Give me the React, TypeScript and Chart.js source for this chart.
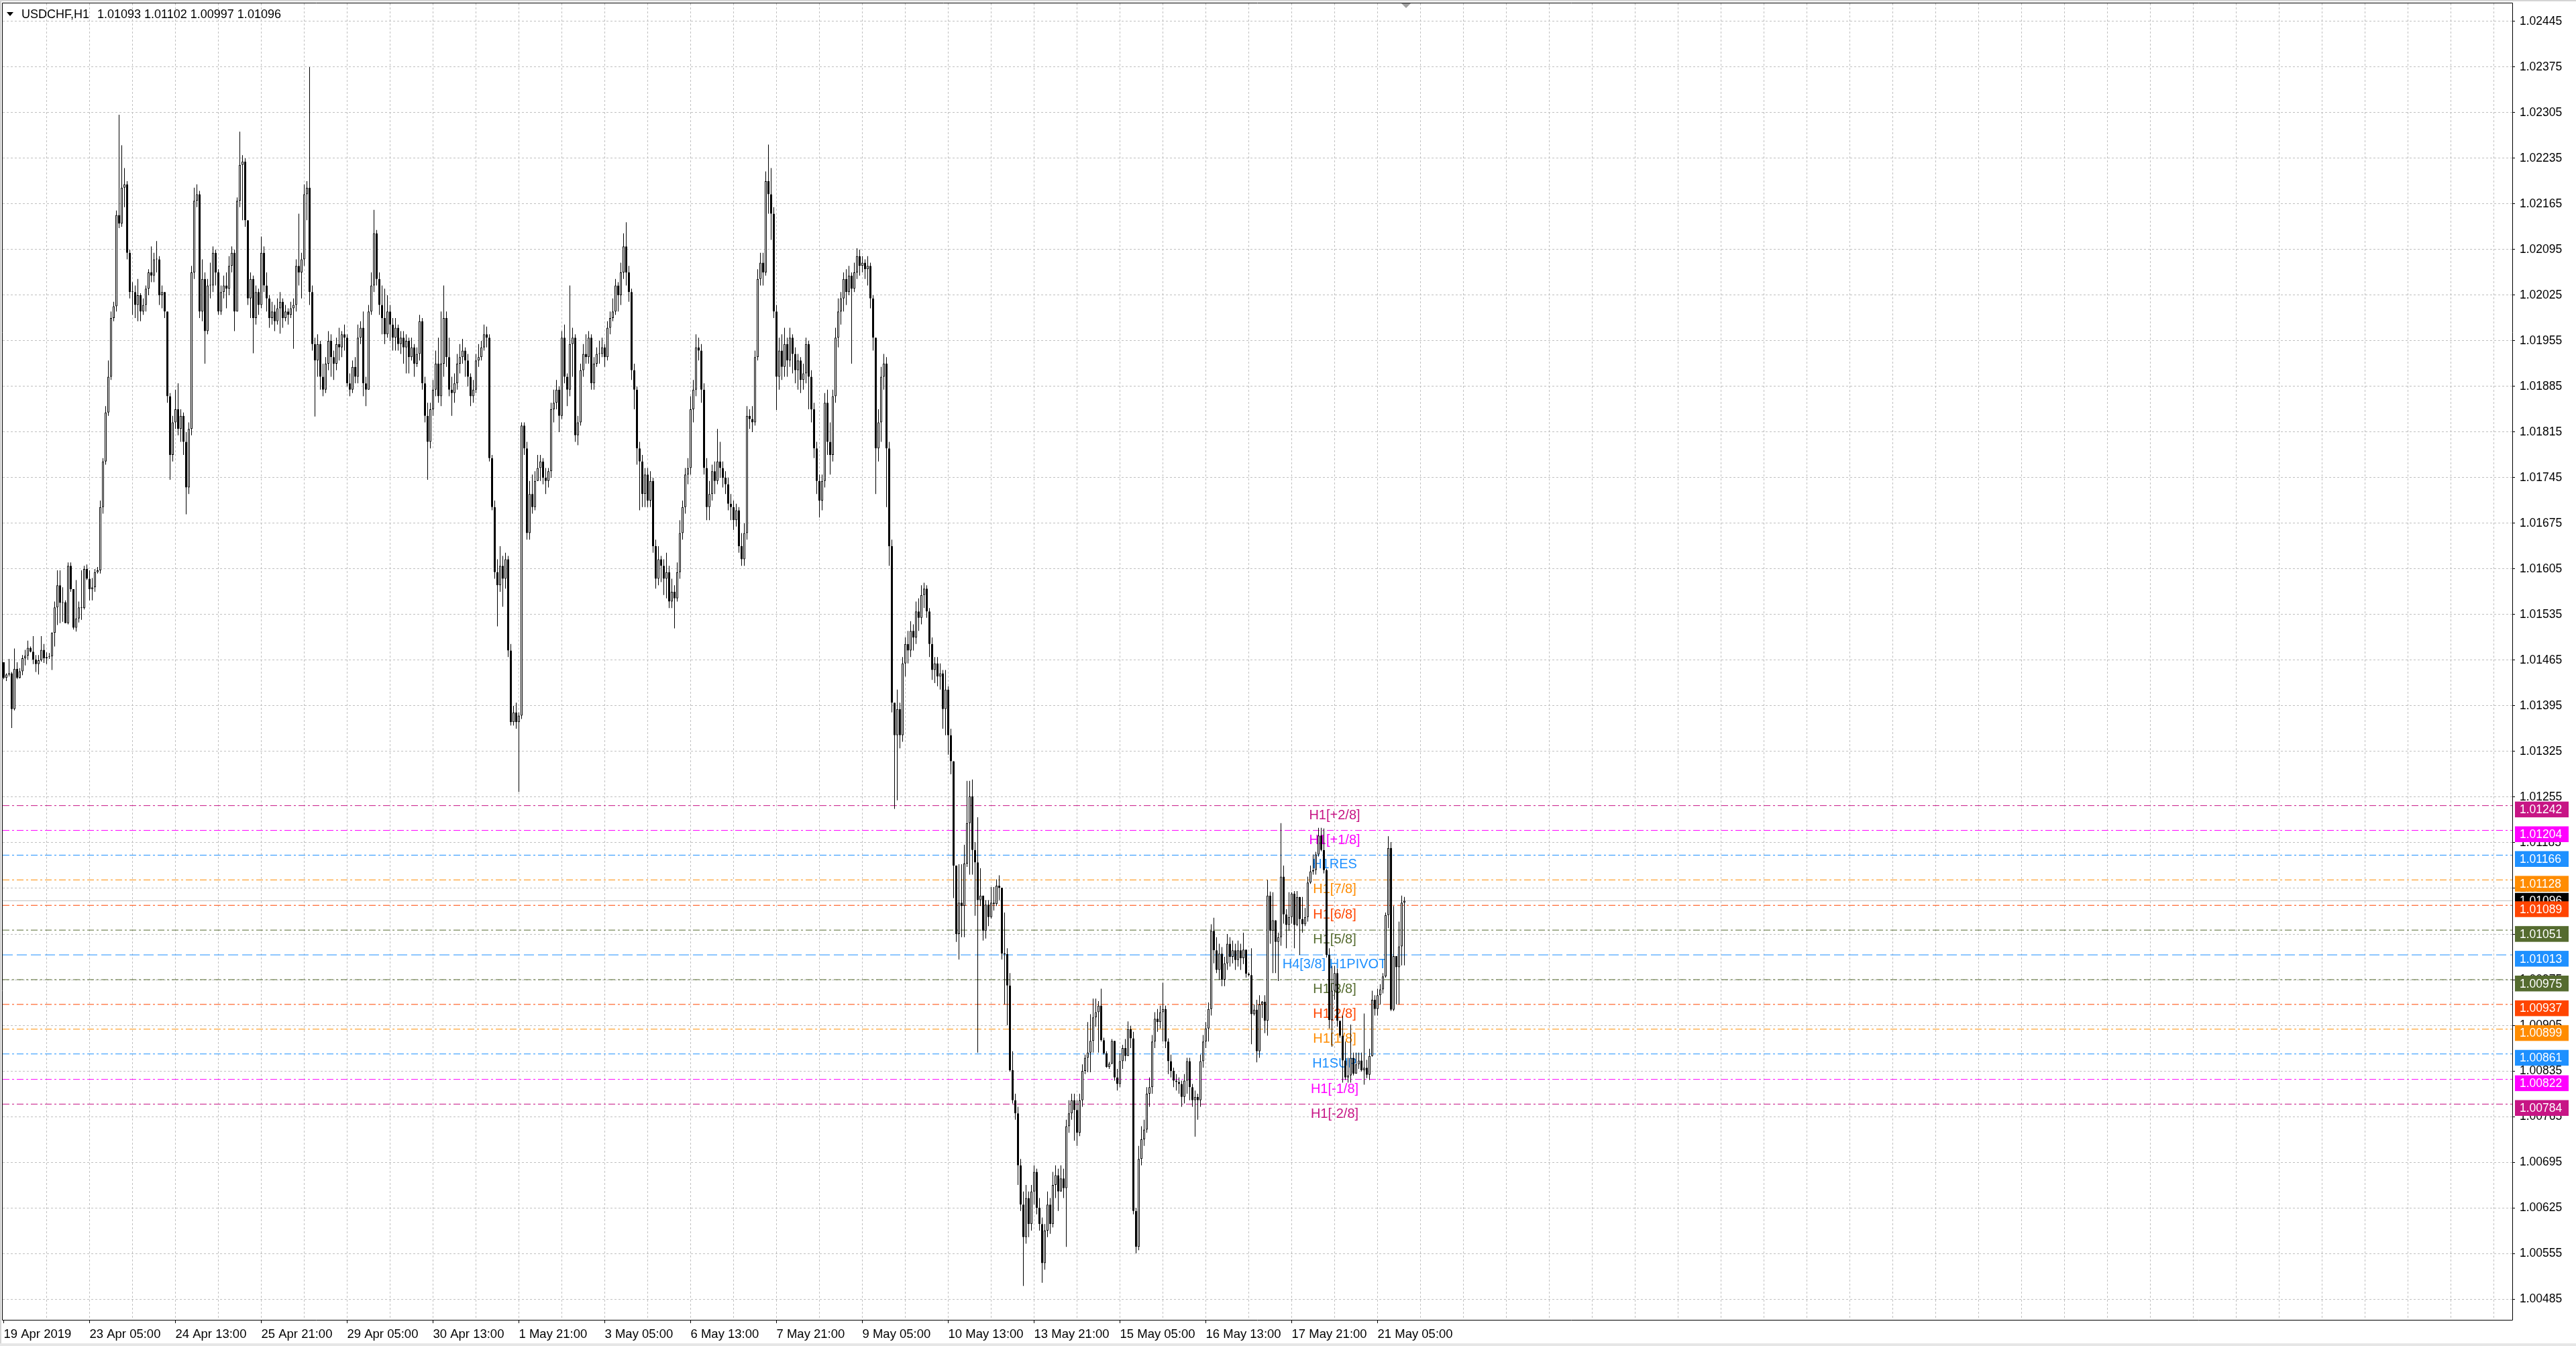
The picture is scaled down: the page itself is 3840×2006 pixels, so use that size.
import React, { useEffect, useRef } from "react";
import { Chart, registerables } from "chart.js";

Chart.register(...registerables);

// Prices are stored as points above 1.00000 (e.g. 1438 = 1.01438)
const FIRST_OPEN = 1462;

const closes = [
  1438,1443,1445,1390,1452,1438,1448,1468,1472,1484,
  1478,1466,1459,1465,1481,1468,1470,1471,1507,1546,
  1580,1553,1554,1522,1610,1574,1515,1529,1546,1545,
  1605,1590,1574,1577,1600,1603,1700,1770,1845,1900,
  1990,2008,2148,2135,2190,2195,2090,2030,2030,2010,
  2025,2000,2010,2035,2060,2055,2080,2080,2025,2030,
  2000,1870,1780,1830,1850,1820,1840,1800,1730,1820,
  2060,2170,2180,2000,2050,1970,2040,2040,2090,2060,
  2000,2030,2040,2035,2070,2090,2000,2170,2225,2230,
  2140,2020,2050,1990,2030,2010,2090,2040,2020,1990,
  2000,1985,2005,2015,1990,2000,1995,2005,2010,2070,
  2060,2080,2180,2190,2030,1950,1925,1950,1900,1880,
  1920,1955,1930,1920,1950,1945,1965,1960,1890,1880,
  1915,1900,1960,1975,1890,1880,2000,2040,2120,2050,
  2010,1990,1965,2000,1980,1960,1975,1950,1960,1945,
  1955,1930,1945,1920,1935,1985,1890,1840,1800,1850,
  1880,1920,1870,1920,1990,1930,1880,1875,1890,1920,
  1930,1940,1925,1900,1870,1880,1925,1930,1945,1965,
  1960,1775,1700,1600,1580,1610,1590,1620,1480,1370,
  1385,1370,1380,1825,1790,1660,1720,1700,1740,1760,
  1770,1745,1740,1755,1850,1860,1880,1840,1960,1900,
  1880,1950,1960,1810,1830,1910,1935,1930,1960,1890,
  1920,1935,1935,1945,1930,1975,1990,2000,2040,2025,
  2060,2100,2060,2030,1910,1880,1790,1770,1720,1750,
  1710,1740,1640,1590,1620,1610,1590,1600,1555,1570,
  1560,1600,1660,1700,1750,1760,1850,1880,1945,1940,
  1880,1760,1700,1720,1755,1740,1770,1760,1745,1735,
  1705,1700,1680,1695,1640,1620,1660,1840,1835,1830,
  1930,2050,2075,2060,2200,2180,2150,2000,1900,1940,
  1915,1950,1925,1960,1935,1910,1925,1895,1905,1950,
  1900,1850,1790,1740,1710,1740,1860,1800,1780,1870,
  1960,2000,2020,2050,2030,2055,2035,2060,2085,2070,
  2075,2065,2070,2020,1960,1790,1830,1900,1920,1790,
  1640,1400,1350,1390,1350,1460,1490,1480,1510,1500,
  1540,1530,1565,1575,1540,1490,1450,1460,1440,1445,
  1390,1420,1350,1310,1150,1045,1093,1088,1153,1215,
  1256,1174,1155,1097,1104,1050,1090,1071,1093,1091,
  1119,1116,1015,1014,966,836,790,770,690,630,
  580,640,600,650,680,625,600,540,590,630,
  600,660,675,650,670,655,750,770,790,775,
  740,790,835,855,863,881,917,925,935,882,
  862,841,846,881,825,815,850,870,858,899,
  885,620,565,700,730,745,800,810,880,915,
  910,925,930,880,850,835,820,818,815,795,
  820,850,810,790,795,790,850,880,900,930,
  1050,1020,990,1015,975,1000,1030,1010,1020,1005,
  1020,1008,1021,984,982,922,929,865,937,941,
  912,1104,1050,1066,1033,1040,1133,1075,1059,1071,
  1107,1059,1102,1068,1060,1071,1124,1141,1143,1167,
  1196,1174,1143,1013,913,958,985,912,889,851,
  825,828,855,831,845,851,836,840,829,858,
  944,930,951,960,980,1074,1177,929,1011,994,
  1026,1093,1096,
];

const highs = [
  1462,1445,1467,1447,1483,1462,1453,1473,1481,1495,
  1486,1502,1473,1473,1502,1490,1477,1476,1508,1555,
  1603,1603,1577,1557,1615,1615,1574,1588,1555,1603,
  1610,1612,1603,1591,1605,1608,1710,1775,1855,1925,
  2000,2015,2155,2302,2255,2220,2200,2095,2045,2040,
  2050,2028,2020,2040,2065,2100,2090,2108,2085,2040,
  2030,2000,1875,1840,1880,1890,1850,1845,1815,1830,
  2070,2190,2195,2185,2080,2060,2050,2075,2100,2095,
  2065,2040,2055,2060,2085,2100,2095,2175,2276,2240,
  2235,2140,2060,2055,2040,2035,2115,2100,2060,2025,
  2015,2010,2020,2030,2020,2010,2005,2015,2020,2080,
  2150,2090,2195,2200,2375,2040,1960,1965,1955,1920,
  1930,1970,1965,1940,1960,1975,1970,1980,1965,1905,
  1925,1930,1980,1985,2000,1900,2010,2060,2156,2125,
  2060,2040,2035,2025,2010,1990,1990,1980,1970,1970,
  1965,1960,1960,1950,1945,1995,1990,1900,1860,1860,
  1895,1940,1960,2000,2040,2000,1960,1900,1905,1935,
  1950,1958,1945,1935,1905,1895,1935,1950,1955,1980,
  1977,1965,1780,1710,1620,1640,1625,1630,1625,1490,
  1395,1400,1385,1830,1830,1800,1740,1750,1755,1780,
  1780,1775,1760,1760,1860,1880,1895,1885,1970,1980,
  1905,2040,1975,1965,1840,1920,1950,1965,1970,1965,
  1930,1945,1955,1960,1950,1985,2000,2020,2050,2045,
  2075,2120,2137,2070,2035,1920,1885,1800,1780,1760,
  1760,1755,1745,1650,1640,1625,1620,1630,1610,1590,
  1580,1615,1680,1710,1760,1775,1870,1895,1965,1960,
  1950,1890,1775,1740,1765,1770,1820,1800,1770,1755,
  1745,1720,1710,1705,1700,1660,1675,1855,1850,1855,
  1940,2065,2090,2090,2215,2256,2220,2160,2010,1960,
  1965,1975,1960,1975,1965,1945,1935,1930,1920,1960,
  1955,1910,1860,1800,1750,1750,1875,1880,1830,1880,
  1975,2020,2030,2060,2065,2070,2060,2075,2097,2095,
  2085,2080,2085,2075,2025,1960,1850,1915,1935,1930,
  1800,1650,1400,1420,1400,1470,1500,1510,1525,1520,
  1555,1560,1580,1584,1580,1545,1500,1470,1470,1460,
  1450,1450,1425,1360,1310,1150,1152,1152,1182,1280,
  1280,1282,1186,1224,1146,1104,1097,1097,1117,1117,
  1129,1135,1116,1078,1023,985,865,800,780,700,
  650,660,650,660,690,685,640,610,600,650,
  640,680,690,685,690,685,760,790,800,800,
  790,800,845,860,910,922,946,946,942,961,
  886,865,849,884,881,838,862,875,884,911,
  904,895,625,720,750,760,810,825,890,925,
  930,935,970,935,885,860,840,830,825,820,
  830,855,855,815,805,800,860,890,910,940,
  1060,1070,1040,1030,1025,1010,1045,1040,1035,1030,
  1035,1030,1047,1021,986,1023,937,944,951,942,
  951,1128,1110,1109,1066,1047,1215,1150,1083,1109,
  1109,1111,1111,1102,1102,1085,1133,1150,1167,1171,
  1208,1208,1207,1145,1023,996,996,992,906,920,
  880,855,906,863,863,863,863,923,852,869,
  958,951,961,968,985,1078,1195,1186,1088,1011,
  1064,1104,1102,
];

const lows = [
  1436,1433,1440,1361,1388,1436,1437,1442,1457,1466,
  1477,1459,1447,1443,1463,1461,1459,1467,1450,1486,
  1519,1522,1524,1522,1520,1570,1512,1509,1523,1527,
  1543,1588,1557,1557,1570,1598,1598,1690,1765,1840,
  1895,1985,2000,2128,2130,2160,2080,2020,1995,1990,
  1985,1985,1995,2000,2025,2045,2045,2060,2010,2005,
  1990,1860,1742,1770,1820,1810,1800,1780,1689,1720,
  1810,2050,2160,1990,1985,1920,1965,2020,2030,2040,
  1995,1995,2020,2005,2025,2060,1970,2000,2160,2140,
  2130,2010,1990,1936,1980,1995,2005,2030,2000,1975,
  1980,1970,1980,1966,1975,1985,1980,1990,1943,2000,
  2040,2020,2070,2140,2010,1940,1839,1900,1880,1870,
  1875,1910,1900,1895,1910,1925,1930,1940,1885,1870,
  1875,1890,1890,1950,1870,1855,1880,1995,2030,2040,
  1995,1965,1950,1960,1955,1940,1940,1940,1935,1920,
  1905,1905,1925,1900,1915,1925,1880,1830,1742,1790,
  1840,1870,1860,1855,1900,1915,1870,1840,1860,1880,
  1905,1920,1900,1885,1855,1860,1875,1915,1925,1940,
  1945,1770,1695,1590,1517,1570,1547,1575,1470,1365,
  1365,1360,1263,1375,1780,1650,1650,1690,1695,1740,
  1740,1735,1720,1730,1745,1830,1850,1815,1835,1890,
  1855,1870,1900,1800,1795,1825,1900,1920,1920,1880,
  1880,1915,1920,1930,1915,1925,1965,1985,1995,2000,
  2010,2050,2040,2015,1895,1850,1765,1695,1700,1700,
  1700,1700,1630,1575,1580,1585,1565,1560,1545,1545,
  1514,1555,1590,1650,1690,1735,1750,1830,1870,1925,
  1860,1750,1680,1680,1710,1720,1735,1745,1730,1720,
  1695,1680,1665,1670,1630,1610,1610,1650,1820,1815,
  1825,1925,2040,2040,2055,2150,2110,1990,1849,1880,
  1895,1900,1900,1915,1905,1890,1880,1875,1880,1890,
  1850,1830,1775,1720,1684,1695,1730,1780,1750,1770,
  1860,1945,1980,2000,2010,2025,1920,2030,2050,2055,
  2060,2050,2040,2005,1940,1720,1770,1800,1880,1700,
  1610,1385,1237,1250,1330,1340,1440,1460,1470,1480,
  1490,1510,1520,1545,1530,1470,1435,1430,1425,1420,
  1360,1350,1320,1290,1100,1033,1006,1040,1040,1148,
  1136,1136,1073,863,1088,1035,1038,1057,1069,1081,
  1088,1097,1006,937,905,834,785,760,660,620,
  505,570,580,590,630,615,590,510,530,580,
  585,595,640,620,650,640,565,740,760,728,
  720,735,780,830,833,833,863,903,863,880,
  860,840,838,845,820,805,810,838,850,858,
  870,615,555,560,690,720,740,780,800,870,
  895,900,880,870,830,825,810,805,800,780,
  785,800,790,780,734,760,780,840,870,880,
  920,1000,985,975,965,965,990,995,1000,990,
  995,990,999,978,980,876,920,848,855,916,
  893,889,1030,985,985,973,1027,1061,1023,1050,
  1061,1023,1057,1013,1047,1057,1064,1122,1136,1136,
  1164,1172,1138,1009,900,872,944,903,886,817,
  821,817,817,828,843,838,834,814,824,821,
  857,920,920,937,954,978,1054,927,927,937,
  937,997,997,
];

const xTickLabels = [
  "19 Apr 2019", "23 Apr 05:00", "24 Apr 13:00", "25 Apr 21:00", "29 Apr 05:00",
  "30 Apr 13:00", "1 May 21:00", "3 May 05:00", "6 May 13:00", "7 May 21:00",
  "9 May 05:00", "10 May 13:00", "13 May 21:00", "15 May 05:00", "16 May 13:00",
  "17 May 21:00", "21 May 05:00",
];
const X_LABEL_STEP = 32;
const X_GRID_STEP = 16;
const X_GRID_LAST = 928;

const yTickLabels = [
  "1.00485", "1.00555", "1.00625", "1.00695", "1.00765", "1.00835", "1.00905",
  "1.00975", "1.01045", "1.01115", "1.01185", "1.01255", "1.01325", "1.01395",
  "1.01465", "1.01535", "1.01605", "1.01675", "1.01745", "1.01815", "1.01885",
  "1.01955", "1.02025", "1.02095", "1.02165", "1.02235", "1.02305", "1.02375",
  "1.02445",
];

const levelPrices = [
  1.01242, 1.01204, 1.01166, 1.01128, 1.01089, 1.01051, 1.01013,
  1.00975, 1.00937, 1.00899, 1.00861, 1.00822, 1.00784,
];
const levelNames = [
  "H1[+2/8]", "H1[+1/8]", "H1RES", "H1[7/8]", "H1[6/8]", "H1[5/8]", "H4[3/8] H1PIVOT",
  "H1[3/8]", "H1[2/8]", "H1[1/8]", "H1SUP", "H1[-1/8]", "H1[-2/8]",
];
const levelColors = [
  "#C71585", "#FF00FF", "#1E90FF", "#FF8C00", "#FF4500", "#556B2F", "#1E90FF",
  "#556B2F", "#FF4500", "#FF8C00", "#1E90FF", "#FF00FF", "#C71585",
];
const levelStyles = [
  "dashdot", "dashdot", "dashdot", "dashdot", "dashdot", "dashdot", "dash",
  "dashdot", "dashdot", "dashdot", "dashdot", "dashdot", "dashdot",
];
const bidPrice = 1.01096;
const bidLabel = "1.01096";
const titleSymbol = "USDCHF,H1";
const titleValues = "1.01093 1.01102 1.00997 1.01096";

const toPrice = (v: number) => 1 + v / 100000;

// layout constants
const W = 3840;
const H = 2006;
const X_MIN = -0.375;
const X_MAX = 934.875;
const Y_MIN = 1.0045309;
const Y_MAX = 1.0247279;
const LABEL_BAR = 496;
const FONT = '"Liberation Sans", Arial, sans-serif';

export default function App() {
  const ref = useRef<HTMLCanvasElement>(null);

  useEffect(() => {
    document.body.style.margin = "0";
    const canvas = ref.current;
    if (!canvas) return;

    const opens = closes.map((_, i) => (i === 0 ? FIRST_OPEN : closes[i - 1]));
    const idx = closes.map((_, i) => i);
    const wickData = idx.map((i) => ({
      x: i,
      y: [
        toPrice(Math.min(lows[i], opens[i], closes[i])),
        toPrice(Math.max(highs[i], opens[i], closes[i])),
      ],
    }));
    const bodyData = idx.map((i) => ({
      x: i,
      y: [toPrice(Math.min(opens[i], closes[i])), toPrice(Math.max(opens[i], closes[i]))],
    }));
    const bodyFill = idx.map((i) => (closes[i] > opens[i] ? "#ffffff" : "#000000"));

    const levelDatasets = levelPrices.map((p, k) => ({
      type: "line" as const,
      data: [
        { x: X_MIN, y: p },
        { x: X_MAX, y: p },
      ],
      borderColor: levelColors[k],
      borderWidth: 1,
      borderDash: levelStyles[k] === "dash" ? [15, 6] : [10, 4, 3, 4],
      pointRadius: 0,
      pointHoverRadius: 0,
      fill: false,
      order: 3,
    }));

    const bidDataset = {
      type: "line" as const,
      data: [
        { x: X_MIN, y: bidPrice },
        { x: X_MAX, y: bidPrice },
      ],
      borderColor: "#c0c0c0",
      borderWidth: 1,
      pointRadius: 0,
      pointHoverRadius: 0,
      fill: false,
      order: 2,
    };

    const yTickValues = yTickLabels.map((s) => parseFloat(s));
    const xGridValues: number[] = [];
    for (let v = 0; v <= X_GRID_LAST; v += X_GRID_STEP) xGridValues.push(v);
    const isLabelled = (v: number) =>
      v % X_LABEL_STEP === 0 && v / X_LABEL_STEP < xTickLabels.length;

    const overlay = {
      id: "mt4overlay",
      beforeDatasetsDraw(chart: any) {
        const { ctx, scales } = chart;
        const xs = scales.x;
        const ys = scales.y;
        ctx.save();
        ctx.font = `20px ${FONT}`;
        ctx.textAlign = "center";
        ctx.textBaseline = "alphabetic";
        const cx = xs.getPixelForValue(LABEL_BAR);
        levelPrices.forEach((p, k) => {
          ctx.fillStyle = levelColors[k];
          ctx.fillText(levelNames[k], cx, ys.getPixelForValue(p) + 20);
        });
        ctx.restore();
      },
      afterDraw(chart: any) {
        const { ctx, chartArea, scales } = chart;
        const ys = scales.y;
        ctx.save();
        // frame
        ctx.strokeStyle = "#000";
        ctx.lineWidth = 1;
        ctx.beginPath();
        ctx.moveTo(chartArea.left - 0.5, chartArea.top - 0.5);
        ctx.lineTo(chartArea.right + 0.5, chartArea.top - 0.5);
        ctx.moveTo(chartArea.left - 0.5, chartArea.top - 0.5);
        ctx.lineTo(chartArea.left - 0.5, chartArea.bottom + 0.5);
        ctx.moveTo(chartArea.right + 0.5, chartArea.top - 0.5);
        ctx.lineTo(chartArea.right + 0.5, chartArea.bottom + 0.5);
        ctx.moveTo(chartArea.left - 0.5, chartArea.bottom + 0.5);
        ctx.lineTo(chartArea.right + 0.5, chartArea.bottom + 0.5);
        ctx.stroke();

        // window edges
        ctx.fillStyle = "#d4d4d4";
        ctx.fillRect(0, 0, W, 2);
        ctx.fillRect(0, 0, 2, H);
        ctx.fillStyle = "#e6e6e6";
        ctx.fillRect(0, H - 4, W, 4);

        // chart shift marker
        ctx.fillStyle = "#a0a0a0";
        ctx.beginPath();
        ctx.moveTo(2089, chartArea.top);
        ctx.lineTo(2103, chartArea.top);
        ctx.lineTo(2096, chartArea.top + 7);
        ctx.closePath();
        ctx.fill();

        // price boxes
        const bx = chartArea.right + 4;
        const bw = 80;
        const bh = 23.5;
        ctx.font = `17.5px ${FONT}`;
        ctx.textAlign = "left";
        ctx.textBaseline = "middle";
        const yb = ys.getPixelForValue(bidPrice);
        ctx.fillStyle = "#000";
        ctx.fillRect(bx, yb - bh / 2, bw, bh);
        ctx.fillStyle = "#fff";
        ctx.fillText(bidLabel, bx + 7, yb + 1);
        levelPrices.forEach((p, k) => {
          const yy = ys.getPixelForValue(p);
          const top = yy - 6;
          ctx.fillStyle = levelColors[k];
          ctx.fillRect(bx, top, bw, bh);
          ctx.fillStyle = "#fff";
          ctx.fillText(p.toFixed(5), bx + 7, top + bh / 2 + 1);
        });

        // title
        ctx.fillStyle = "#000";
        ctx.beginPath();
        ctx.moveTo(10, 18);
        ctx.lineTo(20, 18);
        ctx.lineTo(15, 24);
        ctx.closePath();
        ctx.fill();
        ctx.font = `18px ${FONT}`;
        ctx.textBaseline = "alphabetic";
        ctx.fillText(titleSymbol, 32, 26.5);
        ctx.fillText(titleValues, 145, 26.5);
        ctx.restore();
      },
    };

    const chart = new Chart(canvas, {
      type: "bar",
      data: {
        datasets: [
          {
            type: "bar",
            data: bodyData as any,
            backgroundColor: bodyFill,
            borderColor: "#000000",
            borderWidth: 1,
            borderSkipped: false,
            barThickness: 3,
            grouped: false,
            minBarLength: 1,
            inflateAmount: 0,
            order: 0,
          } as any,
          {
            type: "bar",
            data: wickData as any,
            backgroundColor: "#000000",
            borderWidth: 0,
            barThickness: 1,
            grouped: false,
            minBarLength: 1,
            inflateAmount: 0,
            order: 1,
          } as any,
          bidDataset as any,
          ...(levelDatasets as any[]),
        ],
      },
      options: {
        animation: false,
        responsive: false,
        maintainAspectRatio: false,
        devicePixelRatio: 1,
        events: [],
        layout: { padding: { left: 4, top: 5, right: 0, bottom: 0 }, autoPadding: false },
        plugins: {
          legend: { display: false },
          tooltip: { enabled: false },
          title: { display: false },
        },
        scales: {
          x: {
            type: "linear",
            position: "bottom",
            offset: false,
            min: X_MIN,
            max: X_MAX,
            afterBuildTicks: (s: any) => {
              s.ticks = xGridValues.map((v) => ({ value: v }));
            },
            afterFit: (s: any) => {
              s.height = 39;
              s.paddingLeft = 0;
              s.paddingRight = 0;
            },
            grid: {
              offset: false,
              color: (c: any) => (c.tick && c.tick.value === 0 ? "rgba(0,0,0,0)" : "#c0c0c0"),
              lineWidth: 1,
              drawTicks: true,
              tickLength: 5,
              tickWidth: 1,
              tickColor: (c: any) => (c.tick && isLabelled(c.tick.value) ? "#000" : "rgba(0,0,0,0)"),
            },
            border: { display: false, dash: [3, 3] },
            ticks: {
              autoSkip: false,
              maxRotation: 0,
              minRotation: 0,
              align: "start",
              padding: 6,
              color: "#000",
              font: { family: FONT, size: 18.5 },
              callback: (v: any) => {
                const i = Math.round(Number(v));
                return isLabelled(i) ? xTickLabels[i / X_LABEL_STEP] : "";
              },
            },
          },
          y: {
            type: "linear",
            position: "right",
            offset: false,
            min: Y_MIN,
            max: Y_MAX,
            afterBuildTicks: (s: any) => {
              s.ticks = yTickValues.map((v) => ({ value: v }));
            },
            afterFit: (s: any) => {
              s.width = W - 3745;
              s.paddingTop = 0;
              s.paddingBottom = 0;
            },
            grid: {
              offset: false,
              color: "#c0c0c0",
              lineWidth: 1,
              drawTicks: true,
              tickLength: 4,
              tickColor: "#000",
            },
            border: { display: false, dash: [3, 3] },
            ticks: {
              padding: 7,
              color: "#000",
              font: { family: FONT, size: 17.5 },
              callback: (v: any) => {
                const k = yTickValues.findIndex((t) => Math.abs(t - Number(v)) < 1e-7);
                return k >= 0 ? yTickLabels[k] : "";
              },
            },
          },
        },
      },
      plugins: [overlay],
    } as any);

    return () => {
      chart.destroy();
    };
  }, []);

  return (
    <div
      style={{
        position: "fixed",
        left: 0,
        top: 0,
        width: W,
        height: H,
        background: "#ffffff",
        overflow: "hidden",
      }}
    >
      <canvas ref={ref} width={W} height={H} style={{ display: "block", width: W, height: H }} />
    </div>
  );
}
